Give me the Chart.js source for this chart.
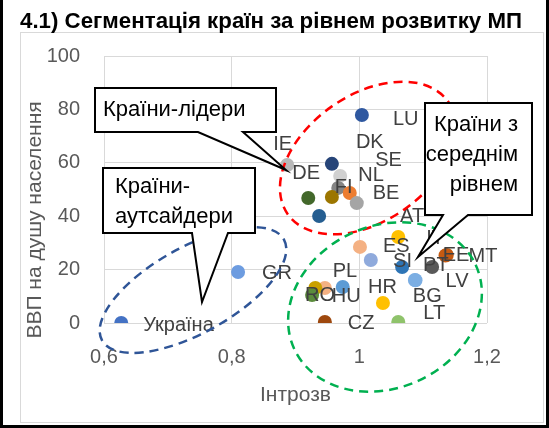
<!DOCTYPE html>
<html>
<head>
<meta charset="utf-8">
<script src="https://cdn.jsdelivr.net/npm/chart.js@4"></script>
<style>
  html, body { margin: 0; padding: 0; background: #fff; }
  canvas { display: block; }
</style>
</head>
<body>
<canvas id="segChart" width="549" height="428"></canvas>
<script>
const countries = [
  'Україна', 'GR', 'LU', 'IE', 'DK', 'SE', 'NL', 'FI', 'DE', 'FR', 'BE', 'AT',
  'IT', 'ES', 'CY', 'SI', 'EE', 'MT', 'PT', 'BG', 'LV', 'LT', 'CZ', 'HR',
  'PL', 'HU', 'SK', 'RO',
];
const introzv = [
  0.627, 0.81, 1.004, 0.887, 0.957, 0.97, 0.967, 0.985, 0.92, 0.957, 0.996, 0.937,
  1.061, 1.001, 1.018, 1.067, 1.137, 1.135, 1.114, 1.087, 1.088, 1.061, 0.946, 1.037,
  0.974, 0.946, 0.931, 0.926,
];
const gdpPerCapita = [
  0, 19.1, 77.9, 59.2, 59.6, 55.1, 50.6, 48.7, 46.8, 47.2, 44.9, 40.1,
  32.2, 28.5, 23.6, 21.0, 25.5, 25.3, 21.0, 16.1, 16.0, 0.4, 0.4, 7.5,
  13.5, 13.1, 13.1, 10.5,
];
const xTicks = [0.6, 0.8, 1, 1.2];
const yTicks = [0, 20, 40, 60, 80, 100];

// colours per point (Excel palette)
const pointColors = [
  '#4472c4', '#6d9ce0', '#2f58a0', '#b8b8b8', '#264478', '#d0d0d0', '#858585', '#ed7d31',
  '#43682b', '#9c7600', '#a5a5a5', '#255e91', '#ffc000', '#f4b183', '#8faadc', '#2e75b6',
  '#c55a11', '#c55a11', '#595959', '#7baee3', '#7baee3', '#8fc36b', '#9e480e', '#ffc000',
  '#5b9bd5', '#f4b183', '#c9a000', '#5b8c3c',
];
// where each label sits relative to its point (left edge, middle), null = hidden
const labelShift = [
  [22, 2], [24, 1], [31, 4], [-14, -20], [24, -21], [35, -15], [20, -12], [-15, -5],
  [-16, -25], null, [16, -10], [81, 1], [28, 1], [23, 0], null, [-9, -5],
  [-4, 1], [23, 1], [-9, -1], [-2, 16], [30, 1], [25, -8], [23, 2], [-15, -15],
  [-10, -15], [7, 8], null, [-7, 1],
];

const FONT = '"Liberation Sans", Arial, sans-serif';

const pts = introzv.map((v, i) => ({ x: v, y: gdpPerCapita[i] }));

// dashed ellipses and callouts (pixel layout)
const rings = [
  { cx: 368, cy: 158, rx: 98, ry: 63, rot: -35, color: '#ff0000' },
  { cx: 385, cy: 307, rx: 100, ry: 81, rot: -25, color: '#00b050' },
  { cx: 193, cy: 290, rx: 104, ry: 43, rot: -29, color: '#2f5597' },
];
const callouts = [
  { box: [95, 88, 276, 132], tail: [198, 243, 286, 170], lines: ['Країни-лідери'], align: 'left', tx: 103, ty: 110 },
  { box: [103, 168, 255, 233], tail: [192, 228, 202, 302], lines: ['Країни-', 'аутсайдери'], align: 'left', tx: 115, ty: 187 },
  { box: [425, 103, 532, 215], tail: [443, 468, 418, 257], lines: ['Країни з', 'середнім', 'рівнем'], align: 'right', tx: 518, ty: 125 },
];

const decor = {
  id: 'decor',
  beforeDraw(chart) {
    const ctx = chart.ctx;
    ctx.save();
    ctx.fillStyle = '#fff';
    ctx.fillRect(0, 0, chart.width, chart.height);
    ctx.strokeStyle = '#d9d9d9';
    ctx.lineWidth = 1;
    ctx.strokeRect(20.5, 32.5, 523, 390);
    ctx.fillStyle = '#000';
    ctx.fillRect(0, 0, 3, 428);
    ctx.fillRect(546, 0, 3, 428);
    ctx.fillRect(0, 425, 549, 3);
    // title
    const title = '4.1) Сегментація країн за рівнем розвитку МП';
    ctx.font = 'bold 22px "Liberation Sans Narrow", ' + FONT;
    const w = ctx.measureText(title).width;
    ctx.translate(20, 28);
    ctx.scale(502 / w, 1);
    ctx.textBaseline = 'alphabetic';
    ctx.fillText(title, 0, 0);
    ctx.restore();
    // y axis title, sits lower than the plot centre in the original
    ctx.save();
    ctx.fillStyle = '#595959';
    ctx.font = '21px ' + FONT;
    ctx.translate(35, 220);
    ctx.rotate(-Math.PI / 2);
    ctx.textAlign = 'center';
    ctx.textBaseline = 'middle';
    ctx.fillText('ВВП на душу населення', 0, 0);
    ctx.restore();
  },
  afterDatasetsDraw(chart) {
    const ctx = chart.ctx;
    const meta = chart.getDatasetMeta(0);
    ctx.save();
    // data labels
    ctx.font = '20px ' + FONT;
    ctx.fillStyle = '#404040';
    ctx.textAlign = 'left';
    ctx.textBaseline = 'middle';
    meta.data.forEach((el, i) => {
      const s = labelShift[i];
      if (!s) return;
      ctx.fillText(countries[i], el.x + s[0], el.y + s[1]);
    });
    // dashed rings
    ctx.lineWidth = 2.5;
    ctx.setLineDash([9, 6]);
    rings.forEach(r => {
      ctx.strokeStyle = r.color;
      ctx.beginPath();
      ctx.ellipse(r.cx, r.cy, r.rx, r.ry, r.rot * Math.PI / 180, 0, Math.PI * 2);
      ctx.stroke();
    });
    ctx.setLineDash([]);
    // callouts
    callouts.forEach(c => {
      const [l, t, r, b] = c.box;
      const [t1, t2, tipX, tipY] = c.tail;
      ctx.beginPath();
      ctx.moveTo(l, t);
      ctx.lineTo(r, t);
      ctx.lineTo(r, b);
      ctx.lineTo(t2, b);
      ctx.lineTo(tipX, tipY);
      ctx.lineTo(t1, b);
      ctx.lineTo(l, b);
      ctx.closePath();
      ctx.fillStyle = '#fff';
      ctx.fill();
      ctx.strokeStyle = '#000';
      ctx.lineWidth = 2;
      ctx.lineJoin = 'miter';
      ctx.stroke();
      ctx.fillStyle = '#000';
      ctx.font = '22px ' + FONT;
      ctx.textAlign = c.align;
      ctx.textBaseline = 'middle';
      c.lines.forEach((s, k) => ctx.fillText(s, c.tx, c.ty + k * 30));
    });
    ctx.restore();
  },
};

const fmt = v => String(Math.round(v * 10) / 10).replace('.', ',');

new Chart(document.getElementById('segChart'), {
  type: 'scatter',
  data: {
    datasets: [{
      data: pts,
      pointRadius: 7,
      pointHoverRadius: 7,
      pointBorderWidth: 0,
      pointBackgroundColor: pointColors,
    }],
  },
  options: {
    responsive: false,
    animation: false,
    devicePixelRatio: 1,
    events: [],
    layout: { padding: { left: 20, right: 62, top: 56, bottom: 0 } },
    plugins: { legend: { display: false }, tooltip: { enabled: false } },
    scales: {
      x: {
        type: 'linear',
        min: xTicks[0],
        max: xTicks[xTicks.length - 1],
        afterFit: s => { s.height = 105; },
        afterBuildTicks: s => { s.ticks = xTicks.map(v => ({ value: v })); },
        grid: { color: '#d9d9d9', drawTicks: false },
        border: { display: false },
        ticks: { padding: 22, color: '#595959', font: { size: 20, family: FONT }, callback: fmt },
        title: { display: true, text: 'Інтрозв', color: '#595959', font: { size: 21, family: FONT }, padding: { top: 0, bottom: 20 } },
      },
      y: {
        min: yTicks[0],
        max: yTicks[yTicks.length - 1],
        afterFit: s => { s.width = 84; },
        afterBuildTicks: s => { s.ticks = yTicks.map(v => ({ value: v })); },
        grid: { color: '#d9d9d9', drawTicks: false },
        border: { display: false },
        ticks: { padding: 24, color: '#595959', font: { size: 20, family: FONT } },
        title: { display: false },
      },
    },
  },
  plugins: [decor],
});
</script>
</body>
</html>
